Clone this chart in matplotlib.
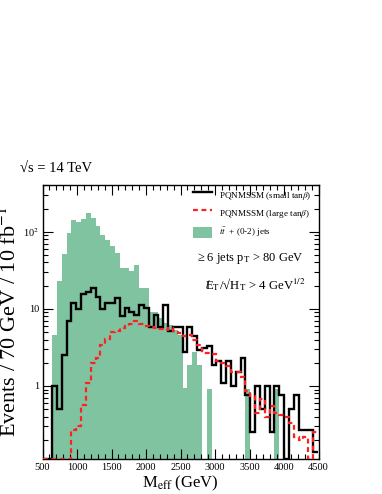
import numpy as np
import matplotlib
matplotlib.use("Agg")
import matplotlib.pyplot as plt
from matplotlib.ticker import FixedLocator, MultipleLocator, NullFormatter, FuncFormatter, LogLocator

plt.rcParams['font.family'] = ['Liberation Serif', 'DejaVu Serif']
plt.rcParams['mathtext.fontset'] = 'stix'

# 70 GeV bins from 500 GeV
bin_edges = np.arange(500, 4500, 70)

# PQNMSSM small tan(beta), events per bin
small_tanb = [0, 0, 1.0, 0.5, 2.5, 7.0, 11.8, 10.0, 15.8, 16.8,
              18.9, 14.3, 10.0, 11.8, 11.8, 14.0, 8.0, 10.4, 9.2, 8.3,
              11.2, 10.4, 5.9, 8.3, 5.9, 11.3, 5.1, 5.9, 5.9, 2.8,
              5.9, 4.4, 2.9, 3.1, 3.3, 1.9, 2.1, 1.1, 2.1, 1.0,
              1.5, 2.3, 0.76, 0.25, 1.0, 0.5, 1.0, 0.25, 1.0, 0.76,
              0, 0.5, 0.76, 0.27, 0.27, 0.27, 0.14]

# PQNMSSM large tan(beta)
large_tanb = [0, 0, 0, 0, 0, 0, 0.27, 0.30, 0.57, 1.1,
              2.0, 2.3, 3.4, 4.1, 5.0, 5.1, 5.6, 6.0, 6.3, 6.9,
              6.3, 6.0, 5.9, 5.6, 5.5, 5.4, 5.6, 5.2, 4.9, 4.4,
              4.6, 4.0, 3.4, 2.7, 2.7, 2.6, 2.1, 2.0, 1.8, 1.5,
              1.5, 1.3, 0.85, 0.75, 0.45, 0.67, 0.4, 0.55, 0.45, 0.42,
              0.4, 0.33, 0.22, 0.2, 0.22, 0, 0.25]

# ttbar + (0-2) jets background
ttbar = [0, 0, 4.6, 23, 52, 96, 143, 135, 148, 176,
         151, 118, 92, 79, 65, 53, 34, 34, 31, 37,
         18.6, 18.6, 9.2, 9.2, 7.6, 6.6, 6.2, 5.3, 4.6, 0.95,
         1.9, 2.8, 1.9, 0, 0.92, 0, 0, 0, 0, 0,
         0, 0, 0.92, 0, 0, 0, 0, 0, 0.92, 0,
         0, 0, 0, 0, 0, 0, 0]

x_ticks = [500, 1000, 1500, 2000, 2500, 3000, 3500, 4000, 4500]
y_ticks = [1, 10, 100]
y_tick_labels = ['1', '10', '10$^{2}$']

ymin, ymax = 0.112, 410

fig = plt.figure(figsize=(3.82, 4.94), dpi=100)
ax = fig.add_axes([0.1113, 0.0702, 0.7225, 0.5563])

ax.stairs(ttbar, bin_edges, fill=True, baseline=1e-3, color='#7fc3a1',
          label=r'$t\bar{t}$  + (0-2) jets', zorder=1)
# ROOT draws empty bins along the bottom of the frame
ax.stairs(np.maximum(small_tanb, ymin), bin_edges, baseline=None, color='black',
          lw=1.7, label=r'PQNMSSM (small tan$\beta$)', zorder=2)
ax.stairs(np.maximum(large_tanb, ymin), bin_edges, baseline=None, color='#ff2020',
          lw=1.6, ls=(0, (2.2, 1.6)), label=r'PQNMSSM (large tan$\beta$)', zorder=3)

ax.set_yscale('log')
ax.set_xlim(500, 4500)
ax.set_ylim(ymin, ymax)

ax.xaxis.set_major_locator(FixedLocator(x_ticks))
ax.xaxis.set_minor_locator(MultipleLocator(100))
ax.yaxis.set_major_locator(FixedLocator(y_ticks))
ax.yaxis.set_major_formatter(FuncFormatter(lambda v, p: y_tick_labels[y_ticks.index(int(round(v)))] if int(round(v)) in y_ticks else ''))
ax.yaxis.set_minor_locator(LogLocator(base=10, subs=np.arange(2, 10)))
ax.yaxis.set_minor_formatter(NullFormatter())

ax.tick_params(which='both', direction='in', top=True, right=True, labelsize=7.5, width=0.8)
ax.tick_params(which='major', length=7)
ax.tick_params(which='minor', length=3.5)
ax.tick_params(axis='x', pad=3)
ax.tick_params(axis='y', pad=2.5)
for s in ax.spines.values():
    s.set_linewidth(1.0)

ax.set_xlabel(r'M$_{\rm eff}$ (GeV)', fontsize=12, labelpad=1)
ax.set_ylabel(r'Events / 70 GeV / 10 fb$^{-1}$', fontsize=16)
ax.yaxis.set_label_coords(-0.078, 0.5)

handles, labels = ax.get_legend_handles_labels()
order = [1, 2, 0]
leg = ax.legend([handles[i] for i in order], [labels[i] for i in order],
                loc='upper left', bbox_to_anchor=(193 / 382, 1 - 189 / 494),
                bbox_transform=fig.transFigure, frameon=False, fontsize=6.6,
                handlelength=2.1, handleheight=1.6, labelspacing=0.6,
                handletextpad=0.7, borderpad=0, borderaxespad=0)

fig.text(20 / 382, 1 - 168 / 494, '√s = 14 TeV', fontsize=10.5, va='center', ha='left')
fig.text(250 / 382, 1 - 258 / 494, r'≥ 6 jets p$_{\rm T}$ > 80 GeV', fontsize=9, va='center', ha='center')
et_x, et_y = 205 / 382, 1 - 285 / 494
fig.text(et_x, et_y, r'E$_{\rm T}$/√H$_{\rm T}$ > 4 GeV$^{1/2}$', fontsize=9.2, va='center', ha='left')
fig.text(et_x + 1.0 / 382, et_y + 0.5 / 494, '/', fontsize=9.2, va='center', ha='left')

fig.savefig('out.png', dpi=100)
